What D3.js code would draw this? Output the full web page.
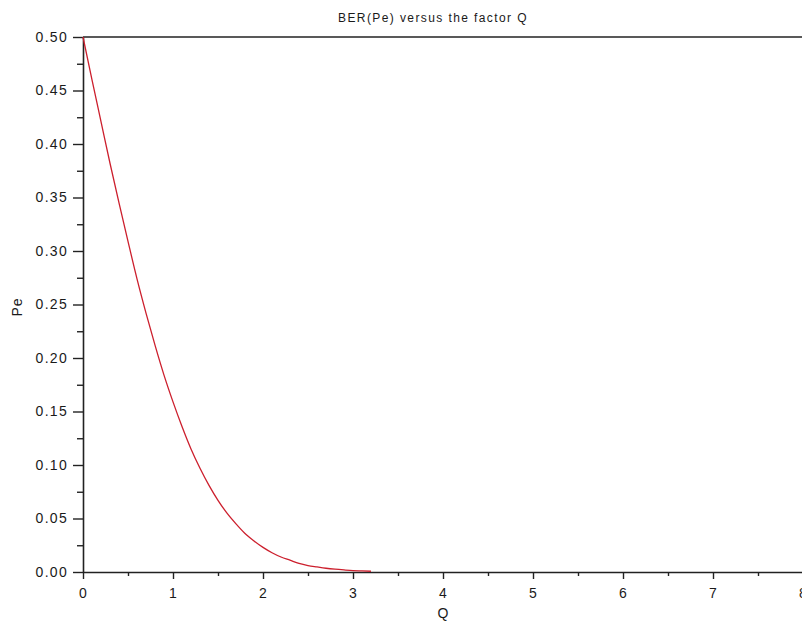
<!DOCTYPE html>
<html><head><meta charset="utf-8">
<script src="https://cdn.jsdelivr.net/npm/d3@7"></script>
<style>
html,body{margin:0;padding:0;background:#fff;overflow:hidden;}
svg{display:block;}
text{font-family:"Liberation Sans",Arial,sans-serif;fill:#1a1a1a;}
</style></head>
<body>
<svg id="chart" width="802" height="623"></svg>
<script>
const title = "BER(Pe) versus the factor Q";
const xLabel = "Q";
const yLabel = "Pe";
const qValues = [0,0.1,0.2,0.3,0.4,0.5,0.6,0.7,0.8,0.9,1.0,1.1,1.2,1.3,1.4,1.5,1.6,1.7,1.8,1.9,2.0,2.1,2.2,2.3,2.4,2.5,2.6,2.7,2.8,2.9,3.0,3.1,3.2];
const peValues = [0.500,0.460,0.421,0.382,0.345,0.309,0.274,0.242,0.212,0.184,0.159,0.136,0.115,0.097,0.081,0.067,0.055,0.045,0.036,0.029,0.023,0.018,0.014,0.011,0.008,0.006,0.0047,0.0035,0.0026,0.0019,0.0013,0.001,0.0007];
const xTicks = [0,1,2,3,4,5,6,7,8];
const xMinorTicks = [0.5,1.5,2.5,3.5,4.5,5.5,6.5,7.5];
const yTicks = [0,0.05,0.10,0.15,0.20,0.25,0.30,0.35,0.40,0.45,0.50];
const yMinorTicks = [0.025,0.075,0.125,0.175,0.225,0.275,0.325,0.375,0.425,0.475];

(function(){
const svg = d3.select("#chart");
const mL = 83, mR = 803, mT = 37, mB = 572;
const x = d3.scaleLinear().domain([0,8]).range([mL,mR]);
const y = d3.scaleLinear().domain([0,0.5]).range([mB,mT]);

svg.append("line").attr("x1",mL).attr("x2",mR).attr("y1",mT).attr("y2",mT)
  .attr("stroke","#222").attr("stroke-width",1.6);

function styleAxis(g){
  g.select(".domain").attr("stroke","#222").attr("stroke-width",1.6);
  g.selectAll(".tick line").attr("stroke","#222").attr("stroke-width",1.4);
  g.selectAll("text").attr("font-size","14px").attr("letter-spacing","1.3px")
    .attr("fill","#1a1a1a").attr("font-family","Liberation Sans, Arial, sans-serif");
}

svg.append("g").attr("transform",`translate(0,${mB})`)
  .call(d3.axisBottom(x).tickValues(xMinorTicks).tickSize(4).tickFormat(""))
  .call(g=>{g.select(".domain").remove(); g.selectAll(".tick line").attr("stroke","#222").attr("stroke-width",1.4);});
svg.append("g").attr("transform",`translate(${mL},0)`)
  .call(d3.axisLeft(y).tickValues(yMinorTicks).tickSize(6).tickFormat(""))
  .call(g=>{g.select(".domain").remove(); g.selectAll(".tick line").attr("stroke","#222").attr("stroke-width",1.4);});

svg.append("g").attr("transform",`translate(0,${mB})`)
  .call(d3.axisBottom(x).tickValues(xTicks).tickSize(7).tickSizeOuter(0).tickPadding(9).tickFormat(d3.format("d")))
  .call(styleAxis);
svg.append("g").attr("transform",`translate(${mL},0)`)
  .call(d3.axisLeft(y).tickValues(yTicks).tickSize(10).tickSizeOuter(0).tickPadding(5).tickFormat(d3.format(".2f")))
  .call(styleAxis);

const data = qValues.map((q,i)=>({q, p: peValues[i]}));
svg.append("path").datum(data)
  .attr("fill","none").attr("stroke","#cc1f2d").attr("stroke-width",1.3)
  .attr("d", d3.line().x(d=>x(d.q)).y(d=>y(d.p)).curve(d3.curveMonotoneX));

svg.append("text").attr("x",433).attr("y",22).attr("text-anchor","middle")
  .attr("font-size","12px").attr("letter-spacing","1.4px").text(title);
svg.append("text").attr("x",443).attr("y",618).attr("text-anchor","middle")
  .attr("font-size","14px").text(xLabel);
svg.append("text").attr("transform","translate(22,307) rotate(-90)").attr("text-anchor","middle")
  .attr("font-size","14px").attr("letter-spacing","1px").text(yLabel);
})();
</script>
</body></html>
